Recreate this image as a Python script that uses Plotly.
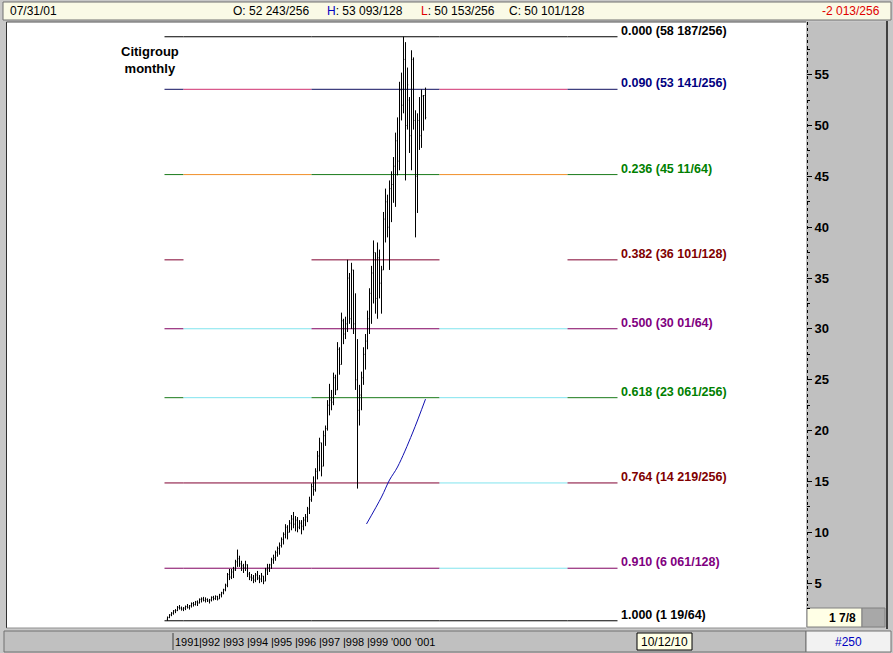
import plotly.graph_objects as go

# ---------------- data ----------------
lows = [1.30, 1.55, 1.75, 1.90, 2.05, 2.25, 2.40, 2.30, 2.25, 2.35,
        2.50, 2.40, 2.60, 2.70, 2.80, 2.75, 3.00, 3.10, 3.20, 3.10,
        3.15, 3.00, 3.20, 3.30, 3.35, 3.30, 3.45, 3.60, 3.90, 4.20,
        4.60, 5.30, 5.40, 5.50, 6.20, 6.60, 6.60, 6.20, 6.00, 6.20,
        5.60, 5.30, 5.20, 5.00, 5.10, 5.30, 5.00, 5.10, 4.90, 5.20,
        5.80, 6.10, 6.40, 6.90, 7.20, 7.60, 7.80, 8.50, 8.80, 9.40,
        9.30, 10.00, 10.20, 10.40, 10.10, 10.00, 10.30, 9.80, 10.20, 10.60,
        11.00, 11.80, 13.00, 13.60, 14.00, 15.20, 16.00, 15.50, 16.50, 18.50,
        20.00, 21.50, 22.00, 22.50, 23.50, 24.00, 25.50, 26.50, 28.50, 29.00,
        29.70, 30.50, 30.00, 29.50, 24.00, 14.30, 20.50, 22.00, 24.50, 26.00,
        28.00, 29.50, 30.50, 32.50, 31.50, 31.00, 33.00, 31.50, 35.80, 38.50,
        39.00, 35.80, 40.50, 42.40, 42.00, 45.10, 45.60, 50.50, 51.20, 44.60,
        49.60, 47.30, 45.60, 49.60, 39.00, 41.40, 47.60, 47.80, 49.50, 50.60]
highs = [1.72, 1.95, 2.15, 2.35, 2.45, 2.75, 2.85, 2.70, 2.65, 2.80,
         2.95, 2.85, 3.10, 3.15, 3.25, 3.30, 3.50, 3.60, 3.65, 3.60,
         3.50, 3.45, 3.70, 3.75, 3.80, 3.75, 3.95, 4.15, 4.45, 4.95,
         6.00, 6.40, 6.40, 6.60, 7.30, 8.30, 7.70, 7.20, 6.90, 7.20,
         6.85, 6.10, 5.90, 5.80, 6.00, 6.20, 5.80, 6.00, 5.70, 6.50,
         6.90, 6.90, 7.50, 7.80, 8.20, 8.60, 9.00, 9.50, 10.00, 10.80,
         10.70, 11.20, 11.70, 12.00, 11.60, 11.50, 11.20, 11.20, 11.50, 11.80,
         12.50, 13.50, 14.80, 15.50, 16.30, 18.00, 19.30, 18.80, 20.00, 20.50,
         23.00, 24.60, 24.00, 25.70, 25.50, 28.70, 28.20, 31.60, 31.00, 31.20,
         36.80, 35.50, 36.50, 35.80, 33.50, 29.00, 24.50, 25.80, 28.20, 29.50,
         31.80, 34.00, 36.20, 38.70, 37.50, 38.50, 37.80, 36.20, 41.50, 43.80,
         43.20, 44.60, 45.50, 46.90, 49.30, 50.80, 54.30, 55.20, 58.73, 58.20,
         55.70, 52.80, 57.40, 56.70, 51.50, 51.20, 52.80, 53.55, 53.00, 53.73]
opens = [1.45, 1.62, 1.88, 2.05, 2.28, 2.30, 2.62, 2.55, 2.45, 2.55,
         2.70, 2.62, 2.78, 3.00, 2.90, 3.15, 3.05, 3.40, 3.45, 3.30,
         3.40, 3.25, 3.35, 3.60, 3.50, 3.70, 3.45, 3.85, 4.05, 4.35,
         4.80, 5.85, 5.60, 6.10, 6.30, 7.10, 7.40, 6.90, 6.70, 6.50,
         6.80, 5.90, 5.60, 5.50, 5.30, 5.80, 5.50, 5.40, 5.70, 5.20,
         6.30, 6.50, 6.80, 7.30, 7.50, 8.00, 8.40, 8.70, 9.30, 9.80,
         10.50, 10.00, 10.90, 11.30, 10.80, 11.20, 10.50, 10.90, 10.60, 11.20,
         11.50, 12.30, 13.20, 14.50, 14.20, 16.00, 17.50, 18.80, 16.50, 19.50,
         20.20, 22.50, 23.00, 22.80, 25.20, 24.00, 28.00, 26.50, 30.80, 29.50,
         30.50, 35.00, 31.00, 35.80, 30.50, 25.00, 22.00, 23.50, 25.20, 27.50,
         28.80, 31.00, 33.50, 35.50, 37.50, 33.00, 37.00, 34.50, 35.80, 40.80,
         42.50, 40.00, 43.80, 44.20, 46.00, 48.50, 46.50, 53.50, 52.00, 56.50,
         50.00, 52.50, 49.00, 56.50, 50.50, 45.00, 50.50, 49.00, 52.90, 52.95]
closes = [1.62, 1.88, 2.05, 2.28, 2.30, 2.62, 2.55, 2.45, 2.55, 2.70,
          2.62, 2.78, 3.00, 2.90, 3.15, 3.05, 3.40, 3.45, 3.30, 3.40,
          3.25, 3.35, 3.60, 3.50, 3.70, 3.45, 3.85, 4.05, 4.35, 4.80,
          5.85, 5.60, 6.10, 6.30, 7.10, 7.40, 6.90, 6.70, 6.50, 6.80,
          5.90, 5.60, 5.50, 5.30, 5.80, 5.50, 5.40, 5.70, 5.20, 6.30,
          6.50, 6.80, 7.30, 7.50, 8.00, 8.40, 8.70, 9.30, 9.80, 10.50,
          10.00, 10.90, 11.30, 10.80, 11.20, 10.50, 10.90, 10.60, 11.20, 11.50,
          12.30, 13.20, 14.50, 14.20, 16.00, 17.50, 18.80, 16.50, 19.50, 20.20,
          22.50, 23.00, 22.80, 25.20, 24.00, 28.00, 26.50, 30.80, 29.50, 30.50,
          35.00, 31.00, 35.80, 30.50, 25.00, 22.00, 23.50, 25.20, 27.50, 28.80,
          31.00, 33.50, 35.50, 37.50, 33.00, 37.00, 34.50, 35.80, 40.80, 42.50,
          40.00, 43.80, 44.20, 46.00, 48.50, 46.50, 53.50, 52.00, 56.50, 50.00,
          54.00, 49.00, 56.50, 50.50, 45.00, 50.50, 49.00, 52.90, 52.95, 50.79]
months = list(range(len(highs)))  # Oct 1990 .. Jul 2001

# hand-drawn blue curve (month index, price)
curve_x = [99.5, 107, 111, 115, 122.5, 129]
curve_y = [10.82, 13.47, 15.14, 16.42, 19.76, 23.10]

fib_levels = [0.000, 0.090, 0.236, 0.382, 0.500, 0.618, 0.764, 0.910, 1.000]
fib_labels = ["0.000 (58 187/256)", "0.090 (53 141/256)", "0.236 (45 11/64)",
              "0.382 (36 101/128)", "0.500 (30 01/64)", "0.618 (23 061/256)",
              "0.764 (14 219/256)", "0.910 (6 061/128)", "1.000 (1 19/64)"]

year_labels = ["1991", "|992", "|993", "|994", "|995", "|996", "|997",
               "|998", "|999", "'000", "'001"]
year_pos = [3, 15, 27, 39, 51, 63, 75, 87, 99, 111, 123]

ytick_vals = [5, 10, 15, 20, 25, 30, 35, 40, 45, 50, 55]
yminor_vals = [2.5, 7.5, 12.5, 17.5, 22.5, 27.5, 32.5, 37.5, 42.5, 47.5, 52.5, 57.5]

# ---------------- styles ----------------
label_colors = ["#000000", "#000080", "#008000", "#800000", "#800080",
                "#008000", "#800000", "#800080", "#000000"]
CY = "#80e4ee"
seg_colors = [
    ["#000000"] * 5,
    ["#101060", "#d03070", "#101060", "#d03070", "#101060"],
    ["#1a7a1a", "#f0902a", "#1a7a1a", "#f0902a", "#1a7a1a"],
    ["#800030", None, "#800030", None, "#800030"],
    ["#800060", CY, "#800060", CY, "#800060"],
    ["#1a7a1a", CY, "#1a7a1a", CY, "#1a7a1a"],
    ["#800030", "#800030", "#800030", CY, "#800030"],
    ["#800060", "#800060", "#800060", CY, "#800060"],
    ["#000000"] * 5,
]
seg_bounds = [-1.5, 8, 72, 136, 200, 225]

W, H = 893, 653
ML, MR, MT, MB = 7, 87, 22, 25
PW, PH = W - ML - MR, H - MT - MB


def px(x):
    return (x - ML) / PW


def py(y):
    return (H - MB - y) / PH


ARIAL = "Liberation Sans, Arial, sans-serif"

hi, lo = max(highs), min(lows)
fib_prices = [hi - f * (hi - lo) for f in fib_levels]

fig = go.Figure()
fig.add_trace(go.Ohlc(
    x=months, open=opens, high=highs, low=lows, close=closes,
    increasing=dict(line=dict(color="black", width=1)),
    decreasing=dict(line=dict(color="black", width=1)),
    tickwidth=0.35, showlegend=False, hoverinfo="skip"))
fig.add_trace(go.Scatter(
    x=curve_x, y=curve_y, mode="lines", line=dict(color="#1010b0", width=1, shape="spline"),
    showlegend=False, hoverinfo="skip"))


def prect(x0, x1, y0, y1, fill, line_color=None, lw=1):
    return dict(type="rect", xref="paper", yref="paper", x0=px(x0), x1=px(x1), y0=py(y1), y1=py(y0),
                fillcolor=fill, line=dict(color=line_color or fill, width=lw if line_color else 0),
                layer="below")


def pline(x0, x1, y0, y1, color, lw=1, dash="solid", layer="below"):
    return dict(type="line", xref="paper", yref="paper", x0=px(x0), x1=px(x1), y0=py(y0), y1=py(y1),
                line=dict(color=color, width=lw, dash=dash), layer=layer)


shapes = [
    prect(3, 891, 2, 20, "#fafae6", "#707070"),
    prect(806, 887, 22, 628, "#c0c0c0"),
    pline(887, 887, 21, 629, "#404040", 2),
    pline(807.5, 807.5, 22, 606, "#000000", 1, "dot"),
    prect(807, 862, 608, 627, "#ffffe6", "#808080"),
    prect(862, 885, 608, 627, "#a8a8a8", "#808080"),
    prect(4, 806, 631, 652, "#c0c0c0", "#707070"),
    pline(173, 173, 633, 650, "#404040"),
    prect(637, 692, 633, 650, "#ffffe6", "#000000"),
    prect(806, 891, 631, 652, "#f2f2f2", "#707070"),
    pline(6.5, 6.5, 22, 628, "#303030", 1, layer="above"),
    pline(6.5, 806, 22, 22, "#505050", 1, layer="above"),
    pline(6.5, 806, 628, 628, "#909090", 1, layer="above"),
]

# fibonacci lines
for price, cols in zip(fib_prices, seg_colors):
    for k, c in enumerate(cols):
        if c is None:
            continue
        shapes.append(dict(type="line", xref="x", yref="y", x0=seg_bounds[k], x1=seg_bounds[k + 1],
                           y0=price, y1=price, line=dict(color=c, width=1), layer="below"))

annotations = []
for price, txt, col in zip(fib_prices, fib_labels, label_colors):
    annotations.append(dict(x=seg_bounds[-1] + 0.5, y=price, xref="x", yref="y", text=txt,
                            xanchor="left", yanchor="bottom", yshift=-3, showarrow=False,
                            font=dict(family=ARIAL, size=12.5, color=col, weight="bold")))

annotations.append(dict(x=px(150), y=py(60), xref="paper", yref="paper", text="Citigroup<br>monthly",
                        xanchor="center", yanchor="middle", showarrow=False,
                        font=dict(family=ARIAL, size=13, color="black", weight="bold")))


def ptext(x, y, text, anchor="left", color="black", size=12, weight="normal"):
    return dict(x=px(x), y=py(y), xref="paper", yref="paper", text=text, xanchor=anchor,
                yanchor="middle", showarrow=False,
                font=dict(family=ARIAL, size=size, color=color, weight=weight))


annotations += [
    ptext(8, 11, "07/31/01"),
    ptext(231, 11, "O: 52 243/256"),
    ptext(325, 11, "<span style='color:#0000c0'>H</span>: 53 093/128"),
    ptext(419, 11, "<span style='color:#e00000'>L</span>: 50 153/256"),
    ptext(507, 11, "C: 50 101/128"),
    ptext(882, 11, "-2 013/256", anchor="right", color="#e00000"),
    ptext(664.5, 641.5, "10/12/10", anchor="center"),
    ptext(848, 641.5, "#250", anchor="center", color="#0000c0"),
    ptext(858, 617.5, "1 7/8", anchor="right", weight="bold"),
]
for xv, t in zip(year_pos, year_labels):
    annotations.append(dict(x=xv, y=py(641.5), xref="x", yref="paper", text=t, xanchor="left",
                            yanchor="middle", showarrow=False, borderpad=0,
                            font=dict(family=ARIAL, size=11, color="black")))

fig.update_layout(
    template="none",
    width=W, height=H,
    margin=dict(l=ML, r=MR, t=MT, b=MB, pad=0, autoexpand=False),
    paper_bgcolor="#c8c8c8", plot_bgcolor="white",
    shapes=shapes, annotations=annotations,
    showlegend=False,
    xaxis=dict(range=[-80.25, 319.25], showticklabels=False, ticks="", showgrid=False, zeroline=False,
               showline=False, rangeslider=dict(visible=False), fixedrange=True, automargin=False),
    yaxis=dict(range=[0.59, 60.18], side="right", tickvals=ytick_vals, ticks="outside", ticklen=5,
               tickcolor="black", tickwidth=1, showgrid=False, zeroline=False, showline=False,
               tickfont=dict(family=ARIAL, size=13, color="black", weight="bold"),
               minor=dict(tickvals=yminor_vals, ticks="outside", ticklen=3, tickcolor="black"),
               fixedrange=True, automargin=False),
)

fig.write_html("out.html", config={"displayModeBar": False},
               post_script="document.body.style.margin='0';document.body.style.background='#c8c8c8';")
